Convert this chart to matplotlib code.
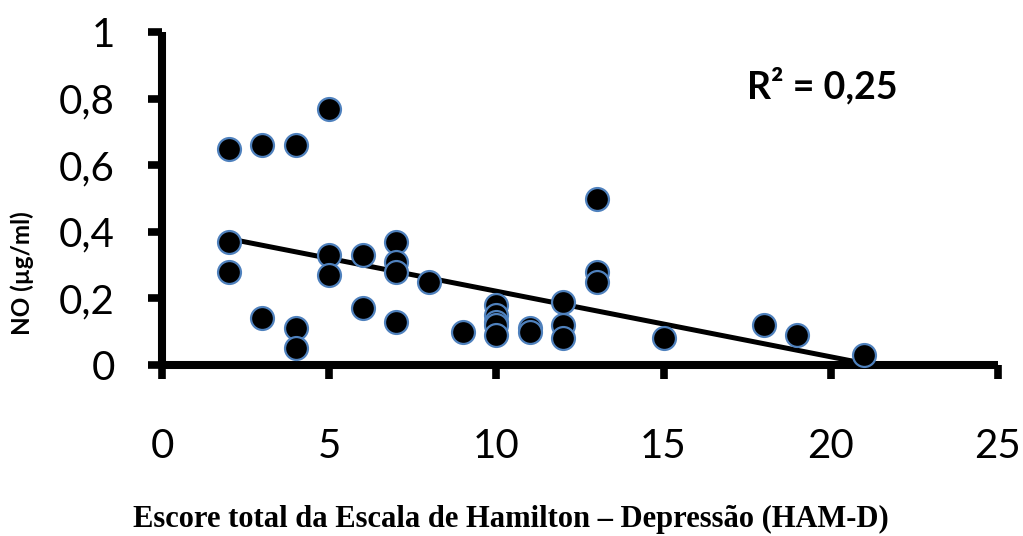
import numpy as np
import matplotlib
matplotlib.use("Agg")
import matplotlib.pyplot as plt

# HAM-D total score vs NO concentration
ham_d = [2, 2, 2, 3, 3, 4, 4, 4, 5, 5, 5, 6, 6, 7, 7, 7, 7, 8, 9,
         10, 10, 10, 10, 10, 11, 11, 12, 12, 12, 13, 13, 13, 15, 18, 19, 21]
no_ugml = [0.65, 0.37, 0.28, 0.66, 0.14, 0.66, 0.11, 0.05, 0.77, 0.33, 0.27,
           0.33, 0.17, 0.37, 0.31, 0.28, 0.13, 0.25, 0.10,
           0.18, 0.15, 0.13, 0.12, 0.09, 0.11, 0.10, 0.19, 0.12, 0.08,
           0.50, 0.28, 0.25, 0.08, 0.12, 0.09, 0.03]

x_ticks = [0, 5, 10, 15, 20, 25]
y_ticks = [0, 0.2, 0.4, 0.6, 0.8, 1]
r2_label = "R² = 0,25"

x = np.array(ham_d, dtype=float)
y = np.array(no_ugml)
slope, intercept = np.polyfit(x, y, 1)

fig = plt.figure(figsize=(10.23, 5.36), dpi=100)
ax = fig.add_axes([0.1584, 0.319, 0.817, 0.621])

# linear trend over the observed range
xl = np.array([x.min(), x.max()])
ax.plot(xl, slope * xl + intercept, color="black", lw=3.6, zorder=2)
ax.plot(x, y, "o", ms=16.5, mfc="black", mec="#4F81BD", mew=1.6, zorder=3,
        clip_on=False)

ax.set_xlim(0, 25)
ax.set_ylim(0, 1)
ax.set_xticks(x_ticks)
ax.set_yticks(y_ticks)
ax.set_xticklabels([str(t) for t in x_ticks])
ax.set_yticklabels([f"{t:g}".replace(".", ",") for t in y_ticks])

for s in ["top", "right"]:
    ax.spines[s].set_visible(False)
for s in ["left", "bottom"]:
    ax.spines[s].set_linewidth(5.8)
    ax.spines[s].set_capstyle("butt")

ax.tick_params(axis="x", direction="out", length=10, width=5.5, pad=35,
               labelsize=29)
ax.tick_params(axis="y", direction="out", length=10, width=5.5, pad=24,
               labelsize=29)
for lab in ax.get_xticklabels() + ax.get_yticklabels():
    lab.set_family("Lato")

ax.text(0.79, 0.84, r2_label, transform=ax.transAxes, ha="center",
        va="center", fontsize=27, fontweight="bold", family="Lato")

fig.text(0.022, 0.49, "NO (µg/ml)", rotation=90, ha="center", va="center",
         fontsize=17.5, fontweight="bold", family="Lato")
fig.text(0.499, 0.03, "Escore total da Escala de Hamilton – Depressão (HAM-D)",
         ha="center", va="center", fontsize=22, fontweight="bold",
         family="Liberation Serif")

fig.savefig("out.png", dpi=100, facecolor="white")
